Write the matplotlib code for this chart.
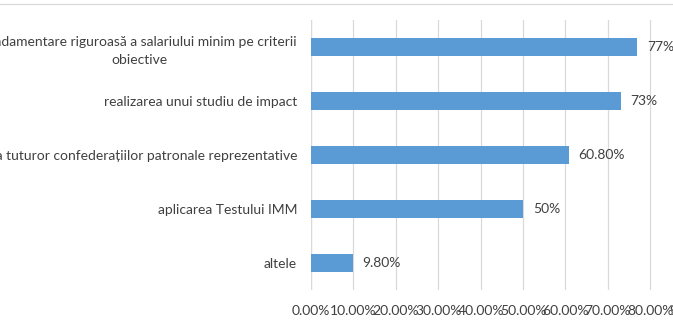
import matplotlib
matplotlib.use("Agg")
import matplotlib.pyplot as plt
from matplotlib.lines import Line2D

categories = [
    "fundamentare riguroasă a salariului minim pe criterii\nobiective",
    "realizarea unui studiu de impact",
    "consultarea tuturor confederațiilor patronale reprezentative",
    "aplicarea Testului IMM",
    "altele",
]
values = [77.0, 73.0, 60.8, 50.0, 9.8]
value_labels = ["77%", "73%", "60.80%", "50%", "9.80%"]
xticks = [0, 10, 20, 30, 40, 50, 60, 70, 80, 90]
xtick_labels = ["0.00%", "10.00%", "20.00%", "30.00%", "40.00%", "50.00%",
                "60.00%", "70.00%", "80.00%", "90.00%"]

FONT = "Lato"
TXT = "#404040"
GRID = "#d9d9d9"
BAR = "#5b9bd5"
FS = 10

W, H = 673, 333
fig = plt.figure(figsize=(W / 100, H / 100), dpi=100)
x0, x90 = 311, 692.6
ytop, ybot = 20, 290
ax = fig.add_axes([x0 / W, (H - ybot) / H, (x90 - x0) / W, (ybot - ytop) / H])

pos = list(range(len(categories)))
ax.barh(pos, values, height=0.34, color=BAR, zorder=3)
ax.set_ylim(len(categories) - 0.5, -0.5)
ax.set_xlim(0, 90)
ax.set_yticks(pos)
ax.set_yticklabels(categories, fontsize=FS, color=TXT, family=FONT,
                   multialignment="center", linespacing=1.55)
ax.set_xticks(xticks)
ax.set_xticklabels(xtick_labels, fontsize=FS, color=TXT, family=FONT)
ax.tick_params(axis="both", length=0)
ax.tick_params(axis="y", pad=10)
ax.tick_params(axis="x", pad=11)
ax.grid(axis="x", color=GRID, linewidth=0.9, zorder=0)
for s in ax.spines.values():
    s.set_visible(False)
ax.axvline(0, color=GRID, linewidth=0.9, zorder=2)

for p, v, lab in zip(pos, values, value_labels):
    ax.annotate(lab, (v, p), xytext=(7, 0), textcoords="offset points",
                va="center", ha="left", fontsize=FS, color=TXT, family=FONT)

fig.add_artist(Line2D([0, 1], [1 - 4 / H, 1 - 4 / H], transform=fig.transFigure,
                      color=GRID, linewidth=0.9))

fig.savefig("out.png", dpi=100)
